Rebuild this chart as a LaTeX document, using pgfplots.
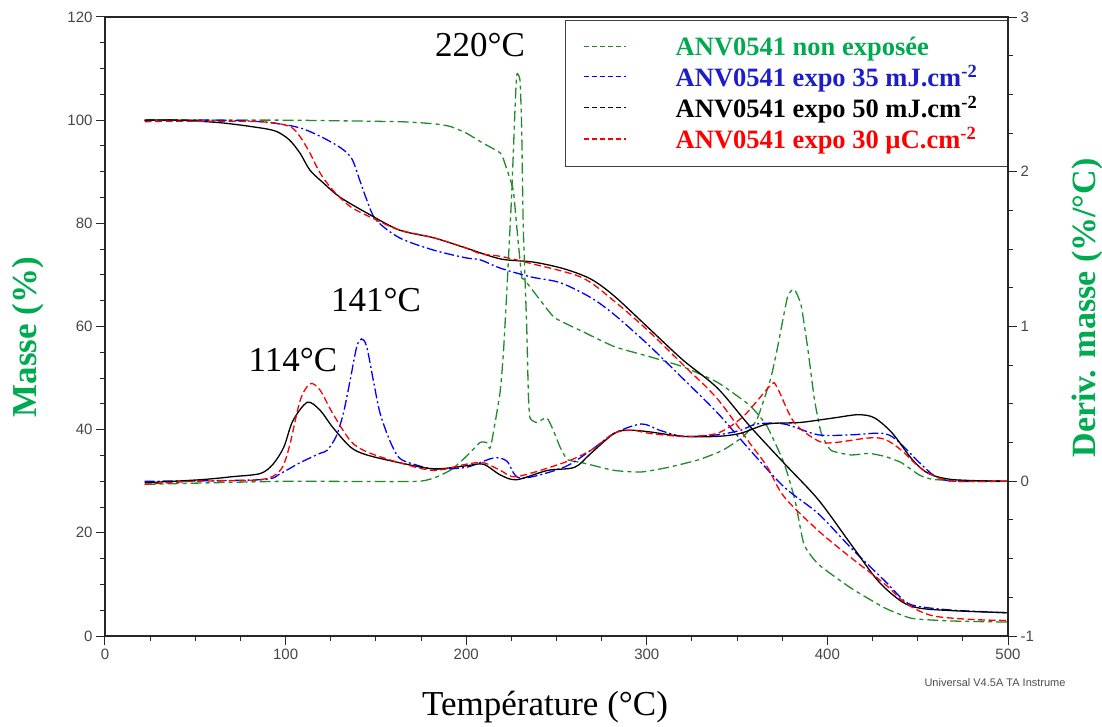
\documentclass[border=0pt]{standalone}
\usepackage{fontspec}
\setmainfont{Liberation Serif}
\setsansfont{Liberation Sans}
\usepackage{pgfplots}
\pgfplotsset{compat=1.18}
\definecolor{cgreen}{RGB}{30,140,40}
\definecolor{lgreen}{RGB}{0,170,80}
\definecolor{cblue}{RGB}{0,0,255}
\definecolor{tblue}{RGB}{30,30,200}
\definecolor{cred}{RGB}{255,0,0}
\definecolor{tickgray}{RGB}{70,70,70}
\pgfplotsset{
  common/.style={width=903pt,height=619pt,scale only axis,xmin=0,xmax=500,
    anchor=south west,at={(0pt,0pt)},
    tick align=outside,major tick length=9pt,minor tick length=5pt,
    every tick/.style={black!85,line width=1pt},
    axis line style={black!85,line width=1.2pt},
    tick label style={font=\sffamily\fontsize{15}{15}\selectfont,text=tickgray},
    /pgf/number format/assume math mode=true},
  gst/.style={cgreen,line width=1.3pt,dash pattern=on 11pt off 4pt on 4pt off 4pt,mark=none,smooth,tension=0.3},
  bst/.style={cblue,line width=1.3pt,dash pattern=on 10pt off 3pt on 2pt off 3pt,mark=none,smooth,tension=0.5},
  kst/.style={black,line width=1.3pt,solid,mark=none,smooth,tension=0.5},
  rst/.style={cred,line width=1.3pt,dash pattern=on 7pt off 3.5pt,mark=none,smooth,tension=0.5},
}
\begin{document}
\begin{tikzpicture}
\useasboundingbox (-105pt,-90pt) rectangle (997pt,636pt);
\begin{axis}[common,
  ymin=0,ymax=120,
  xtick={0,100,...,500},ytick={0,20,...,120},
  minor x tick num=3,minor y tick num=3,
  xtick pos=left,ytick pos=left,
  legend style={at={(1,1)},anchor=north east,yshift=-3pt,
    draw=black!75,line width=1.3pt,fill=white,
    font=\fontsize{26.5}{31}\selectfont\bfseries,
    inner xsep=18pt,inner ysep=14pt,row sep=4.5pt},
  legend cell align=left,
  legend image code/.code={\draw[#1] (0pt,0pt) -- (42pt,0pt);},
]
\addlegendimage{draw=cgreen,line width=1.3pt,dash pattern=on 5pt off 3pt}
\addlegendentry{\hspace*{47pt}\textcolor{lgreen}{ANV0541 non exposée}}
\addlegendimage{draw=cblue,line width=1.3pt,dash pattern=on 5pt off 3pt}
\addlegendentry{\hspace*{47pt}\textcolor{tblue}{ANV0541 expo 35 mJ.cm\textsuperscript{-2}}}
\addlegendimage{draw=black,line width=1.3pt,dash pattern=on 5pt off 3pt}
\addlegendentry{\hspace*{47pt}\textcolor{black}{ANV0541 expo 50 mJ.cm\textsuperscript{-2}}}
\addlegendimage{draw=cred,line width=1.3pt,dash pattern=on 5pt off 3pt}
\addlegendentry{\hspace*{47pt}\textcolor{cred}{ANV0541 expo 30 µC.cm\textsuperscript{-2}}\hspace*{11pt}}
% non exposee (mass)
\addplot[gst,forget plot] coordinates {(22,100) (100,100) (163,99.7) (182,99.3) (191,98.8) (200,97.5) (209,95.6) (219,93.6) (222,91) (226,86.5) (228,79.3) (230.7,69.7) (232,69.2) (241,65.1) (249,61.7) (264,59.1) (282,56.1) (301,54.2) (320,52.2) (339,49.2) (357,44.7) (366.5,40.7) (376,33.5) (382,26.4) (387,17.8) (395,13.9) (413,9.3) (432,5.4) (447,3.4) (470,2.9) (500,2.7)};
% expo 35 (mass)
\addplot[bst,forget plot] coordinates {(22,100) (60,100) (86,99.7) (108,98.5) (126,95.6) (136,92.9) (141,88.4) (145,84.5) (150,80.7) (163,77.2) (182,74.8) (200,73.3) (208,72.9) (219,71.3) (236,69.6) (252,68.5) (269,65.6) (282,62.3) (301,56.4) (320,49.9) (339,43.3) (357,36.1) (376,28.9) (395,23.7) (413,17.1) (432,10.6) (443,6.7) (451,5.7) (470,5.0) (500,4.5)};
% expo 50 (mass)
\addplot[kst,forget plot] coordinates {(22,100) (40,100) (64,99.5) (86,98.5) (95,97.8) (102,96.2) (108,93.6) (113.5,90.3) (121,87.8) (130,85.1) (145,82) (163,78.7) (182,77.2) (200,75.2) (219,73.1) (237,72.5) (254,71.2) (269,69.2) (282,65.9) (301,59.7) (320,53.5) (339,48.1) (357,40.7) (376,33.5) (395,26.4) (413,17.8) (428,10.7) (441,6.7) (451,5.4) (470,4.9) (500,4.5)};
% expo 30 uC (mass)
\addplot[rst,forget plot] coordinates {(22,99.7) (40,99.8) (86,99.7) (102,98.8) (108,96.8) (113.5,93.6) (119,89.8) (126,86.5) (136,83.2) (150,80.7) (163,78.7) (182,77.2) (200,75.2) (208,74.1) (219,73.6) (236,72.2) (264,69.5) (282,64.9) (301,59.1) (320,52.6) (339,46) (357,37.4) (366.5,32.9) (376,27) (395,20.4) (413,15.2) (432,10) (441,7) (450,5) (460,3.8) (480,3.2) (500,3.0)};
\end{axis}
\begin{axis}[common,
  ymin=-1,ymax=3,
  axis x line=none,axis y line*=right,
  ytick={-1,0,1,2,3},minor y tick num=3,
]
\addplot[gst] coordinates {(22,-0.02) (100,0.0) (174,0.0) (191,0.07) (200,0.16) (207.6,0.25) (211.3,0.25) (213.5,0.22) (218.7,0.57) (220.6,0.83) (222.4,1.21) (225.2,1.86) (227,2.40) (228,2.63) (229.8,2.59) (230.7,2.29) (231.6,1.64) (233.5,1.0) (234.4,0.57) (235.3,0.41) (239,0.38) (244.6,0.41) (248.2,0.33) (252,0.22) (256,0.14) (264,0.12) (282,0.07) (297,0.06) (312,0.09) (329,0.14) (342,0.20) (353.5,0.29) (361,0.40) (368.5,0.66) (372.3,0.86) (377.9,1.19) (381.6,1.24) (385.4,1.14) (389.1,0.86) (392.8,0.53) (396.6,0.31) (402,0.20) (413,0.17) (423,0.18) (432,0.16) (441,0.12) (451,0.04) (460,0.01) (500,0.0)};
\addplot[bst] coordinates {(22,0) (86,0.01) (97,0.05) (108,0.12) (119,0.18) (123,0.20) (128,0.29) (132,0.44) (135.7,0.65) (139.4,0.87) (142.1,0.92) (144.9,0.87) (148.6,0.65) (152.3,0.44) (157.8,0.26) (163,0.15) (171,0.11) (182,0.08) (200,0.09) (215,0.15) (222.5,0.13) (230,0.02) (254,0.09) (269,0.20) (282,0.31) (297,0.37) (307,0.33) (320,0.29) (339,0.30) (352,0.33) (361,0.37) (376,0.37) (395,0.30) (413,0.30) (430,0.31) (438,0.27) (451,0.12) (460,0.03) (470,0.0) (500,0.0)};
\addplot[kst] coordinates {(22,-0.01) (53,0.01) (71,0.03) (86,0.05) (93,0.11) (99,0.22) (104,0.39) (112,0.51) (119,0.46) (126,0.35) (136,0.22) (145,0.17) (163,0.12) (182,0.08) (200,0.10) (209.5,0.11) (219,0.04) (228,0.01) (245,0.07) (260,0.09) (269,0.18) (282,0.31) (290,0.33) (301,0.32) (320,0.29) (339,0.29) (352,0.31) (367,0.37) (385,0.38) (404,0.41) (417,0.43) (426,0.41) (436,0.31) (447,0.14) (456,0.05) (470,0.01) (500,0.0)};
\addplot[rst] coordinates {(22,-0.02) (50,0.0) (86,0.01) (97,0.07) (102,0.22) (108,0.52) (113.5,0.63) (119,0.59) (126,0.44) (136,0.26) (145,0.19) (163,0.12) (182,0.07) (200,0.11) (209.5,0.12) (219,0.07) (228,0.03) (254,0.12) (269,0.20) (282,0.31) (292,0.33) (301,0.31) (320,0.29) (339,0.31) (353.5,0.42) (368.5,0.62) (372,0.61) (381.6,0.38) (395,0.26) (404,0.25) (423,0.28) (432,0.27) (441,0.2) (451,0.09) (460,0.03) (470,0.0) (500,0.0)};
\end{axis}
\node[font=\fontsize{35}{38}\selectfont] at (440pt,-71pt) {Température (°C)};
\node[font=\fontsize{35}{38}\selectfont\bfseries,text=lgreen,rotate=90] at (-77pt,299pt) {Masse (\%)};
\node[font=\fontsize{34}{38}\selectfont\bfseries,text=lgreen,rotate=90] at (982pt,328pt) {Deriv. masse (\%/°C)};
\node[font=\sffamily\fontsize{11}{12}\selectfont,text=black!70] at (890pt,-47pt) {Universal V4.5A TA Instrume};
\node[font=\fontsize{35}{38}\selectfont] at (375pt,591pt) {220°C};
\node[font=\fontsize{35}{38}\selectfont] at (271pt,336pt) {141°C};
\node[font=\fontsize{35}{38}\selectfont] at (188pt,276pt) {114°C};
\end{tikzpicture}
\end{document}
